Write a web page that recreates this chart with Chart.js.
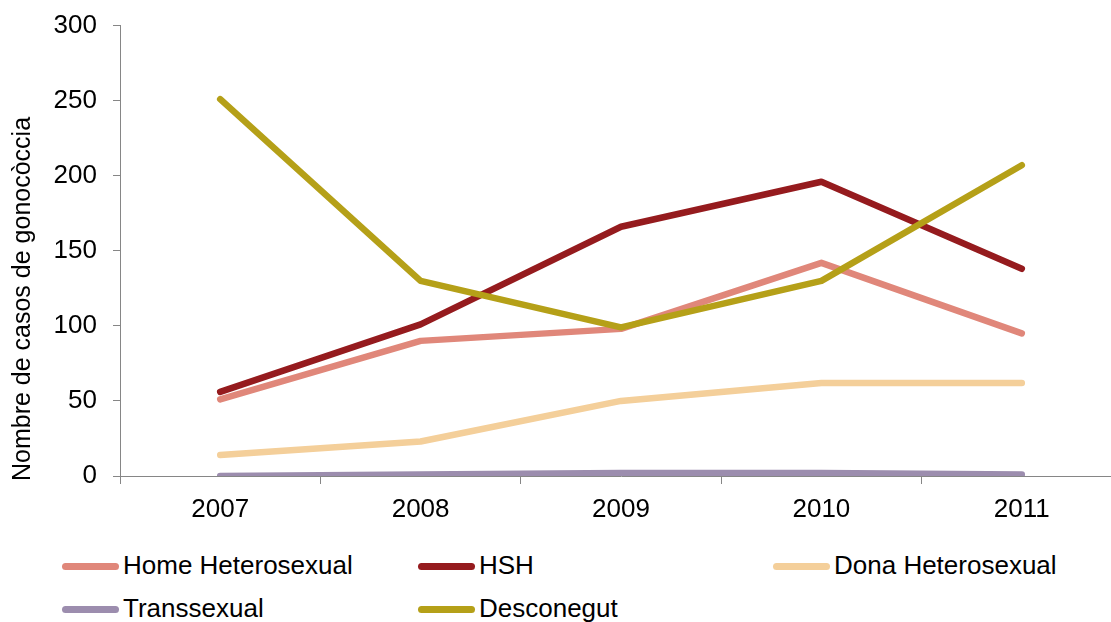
<!DOCTYPE html>
<html>
<head>
<meta charset="utf-8">
<title>Nombre de casos de gonocòccia</title>
<style>
  html, body { margin: 0; padding: 0; background: #fff; overflow: hidden; }
  body { width: 1111px; height: 622px; position: relative; font-family: "Liberation Sans", Arial, sans-serif; }
  #wrap { position: absolute; left: 0; top: -6px; width: 1122px; height: 536px; }
  .item { position: absolute; font-size: 26px; color: #000; line-height: 30px; white-space: nowrap; }
  .item span.swatch { display: inline-block; width: 57px; height: 7px; border-radius: 4px; vertical-align: middle; margin-right: 4px; position: relative; top: -1px; }
</style>
</head>
<body>
<div id="wrap">
  <canvas id="gonoChart"></canvas>
</div>
<div id="legend"></div>

<script src="https://cdn.jsdelivr.net/npm/chart.js"></script>
<script>
  // data
  const years = ['2007', '2008', '2009', '2010', '2011'];
  const homeHetero = [51, 90, 98, 142, 95];
  const hsh = [56, 101, 166, 196, 138];
  const donaHetero = [14, 23, 50, 62, 62];
  const transsexual = [0, 1, 2, 2, 1];
  const desconegut = [251, 130, 99, 130, 207];

  const seriesNames = ['Home Heterosexual', 'HSH', 'Dona Heterosexual', 'Transsexual', 'Desconegut'];
  const seriesColors = ['#E0877A', '#951B1E', '#F4CF9A', '#9C8DAE', '#B5A018'];
  const seriesData = [homeHetero, hsh, donaHetero, transsexual, desconegut];

  const yTitle = 'Nombre de casos de gonocòccia';
  const fontFamily = '"Liberation Sans", Arial, sans-serif';

  // draw the y axis title a bit lower than the chart centre, like the original
  const yTitlePlugin = {
    id: 'yTitle',
    afterDraw(chart) {
      const c = chart.ctx;
      c.save();
      c.translate(23, 305);
      c.rotate(-Math.PI / 2);
      c.font = '25px ' + fontFamily;
      c.fillStyle = '#000';
      c.textAlign = 'center';
      c.textBaseline = 'middle';
      c.fillText(yTitle, 0, 0);
      c.restore();
    }
  };

  const datasets = seriesNames.map((name, i) => ({
    label: name,
    data: seriesData[i],
    borderColor: seriesColors[i],
    backgroundColor: seriesColors[i],
    borderWidth: 6.5,
    borderCapStyle: 'round',
    borderJoinStyle: 'round',
    pointRadius: 0,
    tension: 0,
    order: seriesNames.length - i
  }));

  new Chart(document.getElementById('gonoChart'), {
    type: 'line',
    data: { labels: years, datasets: datasets },
    plugins: [yTitlePlugin],
    options: {
      responsive: true,
      maintainAspectRatio: false,
      animation: false,
      layout: { padding: { top: 19, left: 0, right: 0, bottom: 0 } },
      plugins: {
        legend: { display: false },
        tooltip: { enabled: false }
      },
      scales: {
        x: {
          offset: true,
          grid: { offset: true, drawOnChartArea: false, tickLength: 8, color: '#868686' },
          border: { color: '#868686', width: 1 },
          ticks: { color: '#000', font: { size: 26, family: fontFamily }, padding: 10 },
          afterFit(scale) { scale.height = 54; }
        },
        y: {
          min: 0,
          max: 300,
          ticks: { stepSize: 50, color: '#000', font: { size: 26, family: fontFamily }, padding: 16 },
          grid: { drawOnChartArea: false, tickLength: 7, color: '#868686' },
          border: { color: '#868686', width: 1 },
          afterFit(scale) { scale.width = 120; }
        }
      }
    }
  });

  // legend laid out in columns like the original
  const legendPos = [
    [62, 550], [418, 550], [773, 550],
    [62, 593], [418, 593]
  ];
  const legend = document.getElementById('legend');
  seriesNames.forEach((name, i) => {
    const div = document.createElement('div');
    div.className = 'item';
    div.style.left = legendPos[i][0] + 'px';
    div.style.top = legendPos[i][1] + 'px';
    const sw = document.createElement('span');
    sw.className = 'swatch';
    sw.style.background = seriesColors[i];
    div.appendChild(sw);
    div.appendChild(document.createTextNode(name));
    legend.appendChild(div);
  });
</script>
</body>
</html>
